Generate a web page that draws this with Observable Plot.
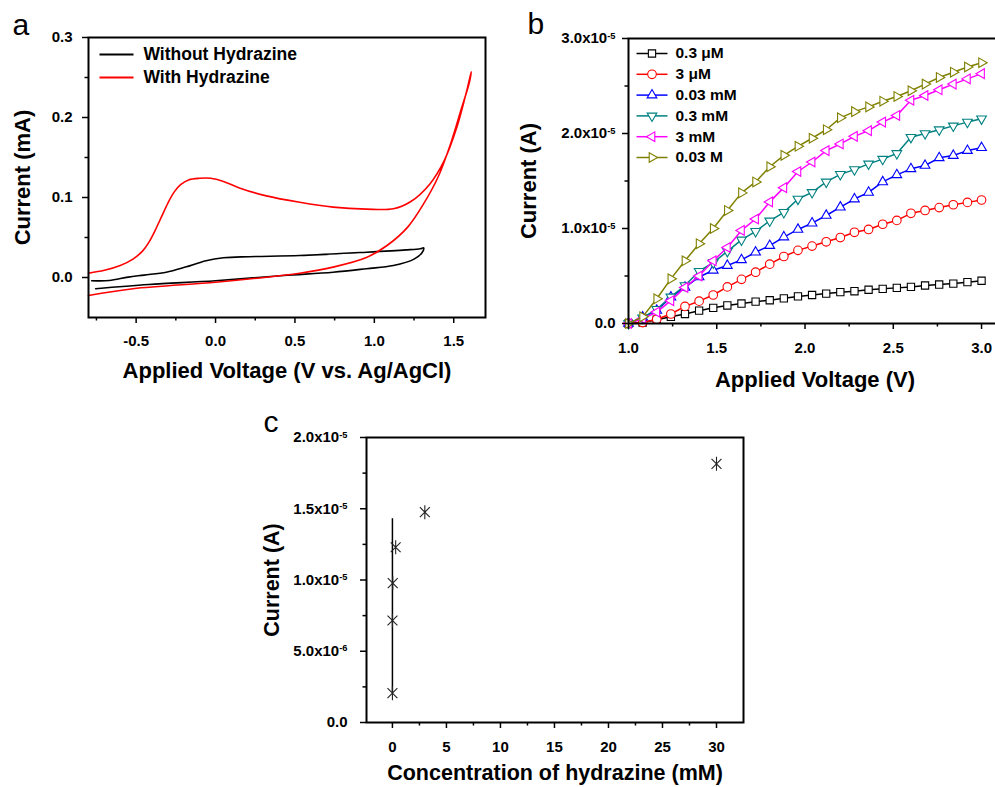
<!DOCTYPE html>
<html><head><meta charset="utf-8">
<script src="https://cdn.jsdelivr.net/npm/d3@7"></script>
<script src="https://cdn.jsdelivr.net/npm/@observablehq/plot@0.6"></script>
<style>
html,body{margin:0;padding:0;overflow:hidden;background:#fff;}
#root{position:relative;width:995px;height:787px;overflow:hidden;background:#fff;}
</style></head><body><div id="root"></div>
<script>
// ---------- Panel a: cyclic voltammograms (V vs. Ag/AgCl, mA) ----------
const aWithoutV = [-0.78,-0.67,-0.55,-0.45,-0.31,-0.19,-0.06,0.05,0.21,0.53,0.95,1.20,1.29,1.31,1.30,1.25,1.12,0.95,0.74,0.43,0.0,-0.42,-0.755];
const aWithoutI = [-0.004,-0.0038,0.0005,0.003,0.0066,0.013,0.021,0.0246,0.026,0.0275,0.0316,0.0345,0.036,0.037,0.031,0.023,0.015,0.011,0.0066,0.0025,-0.004,-0.0088,-0.014];
const aWithV = [-0.80,-0.70,-0.60,-0.52,-0.46,-0.42,-0.38,-0.34,-0.30,-0.26,-0.22,-0.17,-0.10,-0.03,0.05,0.15,0.32,0.53,0.74,0.95,1.12,1.23,1.35,1.44,1.52,1.58,1.61,
                1.60,1.545,1.48,1.40,1.31,1.21,1.08,0.95,0.74,0.53,0.32,0.0,-0.52,-0.80];
const aWithI = [0.0054,0.009,0.015,0.023,0.033,0.044,0.059,0.076,0.093,0.107,0.116,0.122,0.124,0.124,0.12,0.112,0.102,0.094,0.088,0.0855,0.086,0.095,0.117,0.146,0.188,0.232,0.257,
                0.245,0.209,0.167,0.125,0.092,0.063,0.04,0.025,0.013,0.0054,0.0004,-0.006,-0.014,-0.0225];
const aLegend = ["Without Hydrazine","With Hydrazine"];
const aColors = ["#000000","#ff0000"];
const aXTicks = [-0.5,0,0.5,1,1.5];
const aXTickLabels = ["-0.5","0.0","0.5","1.0","1.5"];
const aXMinor = [-0.75,-0.25,0.25,0.75,1.25];
const aYTicks = [0,0.1,0.2,0.3];
const aYTickLabels = ["0.0","0.1","0.2","0.3"];
const aYMinor = [0.05,0.15,0.25];

// ---------- Panel b: current vs applied voltage (units of 1e-5 A) ----------
const bVoltage = [1.00,1.08,1.16,1.24,1.32,1.40,1.48,1.56,1.64,1.72,1.80,1.88,1.96,2.04,2.12,2.20,2.28,2.36,2.44,2.52,2.60,2.68,2.76,2.84,2.92,3.00];
const b03uM  = [0,0.01,0.04,0.07,0.10,0.135,0.165,0.19,0.21,0.23,0.245,0.265,0.285,0.30,0.315,0.33,0.34,0.355,0.365,0.375,0.385,0.40,0.41,0.42,0.435,0.45];
const b3uM   = [0,0.01,0.045,0.10,0.18,0.235,0.30,0.385,0.465,0.54,0.625,0.705,0.77,0.815,0.86,0.905,0.96,0.99,1.045,1.085,1.16,1.19,1.22,1.25,1.275,1.30];
const b003mM = [0,0.066,0.137,0.277,0.38,0.49,0.56,0.61,0.67,0.75,0.82,0.91,0.99,1.056,1.137,1.224,1.31,1.38,1.49,1.565,1.628,1.663,1.744,1.768,1.82,1.85];
const b03mM  = [0,0.06,0.15,0.28,0.40,0.55,0.64,0.76,0.88,0.97,1.08,1.17,1.31,1.38,1.49,1.57,1.62,1.68,1.73,1.79,1.96,2.0,2.04,2.08,2.12,2.155];
const b3mM   = [0,0.05,0.12,0.24,0.38,0.5,0.66,0.8,0.98,1.1,1.28,1.43,1.6,1.7,1.82,1.89,1.97,2.03,2.12,2.19,2.35,2.4,2.46,2.52,2.575,2.63];
const b003M  = [0,0.07,0.26,0.47,0.66,0.84,1.0,1.19,1.375,1.49,1.65,1.77,1.865,1.95,2.04,2.165,2.23,2.28,2.34,2.39,2.45,2.52,2.59,2.645,2.70,2.745];
const bLabels = ["0.3 \u03bcM","3 \u03bcM","0.03 mM","0.3 mM","3 mM","0.03 M"];
const bColors = ["#000000","#ff0000","#0000ff","#008080","#ff00ff","#808000"];
const bXTicks = [1,1.5,2,2.5,3];
const bXTickLabels = ["1.0","1.5","2.0","2.5","3.0"];
const bXMinor = [1.25,1.75,2.25,2.75];
const bYTicks = [0,1,2,3];
const bYTickLabels = ["0.0","1.0x10^-5","2.0x10^-5","3.0x10^-5"];
const bYMinor = [0.5,1.5,2.5];

// ---------- Panel c: current vs concentration (units of 1e-6 A) ----------
const cConc = [0.0003,0.003,0.03,0.3,3,30];
const cCurrent = [2.06,7.16,9.78,12.3,14.76,18.15];
const cLineX = [0];
const cLineBottom = [2.06];
const cLineTop = [14.3];
const cXTicks = [0,5,10,15,20,25,30];
const cXTickLabels = ["0","5","10","15","20","25","30"];
const cXMinor = [2.5,7.5,12.5,17.5,22.5,27.5];
const cYTicks = [0,5,10,15,20];
const cYTickLabels = ["0.0","5.0x10^-6","1.0x10^-5","1.5x10^-5","2.0x10^-5"];
const cYMinor = [2.5,7.5,12.5,17.5];

// ---------- helpers ----------
const FONT = "'Liberation Sans', Arial, Helvetica, sans-serif";
const STYLE = `font-family:${FONT};font-weight:bold;overflow:visible;background:transparent;`;
const root = document.getElementById("root");
function place(svg, left, top) {
  svg.style.position = "absolute";
  svg.style.left = left + "px";
  svg.style.top = top + "px";
  svg.style.maxWidth = "none";
  root.appendChild(svg);
}
function fmt(ticks, labels) {
  const m = new Map(ticks.map((t, i) => [t, labels[i]]));
  return d => m.has(d) ? m.get(d) : "";
}
function finish(svg) {
  // tick label size
  svg.querySelectorAll('g[aria-label*="tick label"]').forEach(g => {
    g.setAttribute("font-size", "15");
    g.querySelectorAll("text").forEach(t => t.removeAttribute("font-size"));
  });
  // superscript exponents
  svg.querySelectorAll("text").forEach(t => {
    const s = t.textContent;
    if (!s.includes("^")) return;
    const [base, exp] = s.split("^");
    t.textContent = base;
    const ts = document.createElementNS("http://www.w3.org/2000/svg", "tspan");
    ts.setAttribute("dy", "-0.5em");
    ts.setAttribute("font-size", "0.62em");
    ts.textContent = exp;
    t.appendChild(ts);
  });
}
const tri = deg => ({
  draw(ctx, size) {
    const R = Math.sqrt(size / Math.PI) * 1.3;
    for (let k = 0; k < 3; k++) {
      const a = (deg + k * 120) * Math.PI / 180;
      const px = R * Math.sin(a), py = -R * Math.cos(a);
      if (k) ctx.lineTo(px, py); else ctx.moveTo(px, py);
    }
    ctx.closePath();
  }
});
const hline = L => ({ draw(ctx) { ctx.moveTo(-L, 0); ctx.lineTo(L, 0); } });
const star = {
  draw(ctx, size) {
    const L = Math.sqrt(size / Math.PI);
    ctx.moveTo(0, -L); ctx.lineTo(0, L);
    const d = L * Math.SQRT1_2;
    ctx.moveTo(-d, -d); ctx.lineTo(d, d);
    ctx.moveTo(-d, d); ctx.lineTo(d, -d);
  }
};
function axes(xT, xL, xM, yT, yL, yM, xPad, yPad) {
  return [
    Plot.axisX(xT, {anchor: "bottom", tickSize: 6, tickPadding: xPad, tickFormat: fmt(xT, xL), fontSize: 15, strokeWidth: 1.5, label: null}),
    Plot.axisX(xM, {anchor: "bottom", tickSize: 3.5, tickFormat: () => "", strokeWidth: 1.5, label: null}),
    Plot.axisY(yT, {anchor: "left", tickSize: 6, tickPadding: yPad, tickFormat: fmt(yT, yL), fontSize: 15, strokeWidth: 1.5, label: null}),
    Plot.axisY(yM, {anchor: "left", tickSize: 3.5, tickFormat: () => "", strokeWidth: 1.5, label: null})
  ];
}
function titles(xTitle, xdy, yTitle, ydx, letter, ldx, ldy, size = 22) {
  return [
    Plot.text([xTitle], {frameAnchor: "bottom", dy: xdy, text: d => d, textAnchor: "middle", lineAnchor: "middle", fontSize: size, fontWeight: "bold"}),
    Plot.text([yTitle], {frameAnchor: "left", dx: ydx, rotate: -90, text: d => d, textAnchor: "middle", lineAnchor: "middle", fontSize: size, fontWeight: "bold"}),
    Plot.text([letter], {frameAnchor: "top-left", dx: ldx, dy: ldy, text: d => d, textAnchor: "start", lineAnchor: "middle", fontSize: 30, fontWeight: "normal"})
  ];
}

// ---------- Panel a ----------
{
  const marks = [
    Plot.line(aWithoutI, {x: aWithoutV, y: aWithoutI, stroke: aColors[0], strokeWidth: 1.6, curve: "catmull-rom"}),
    Plot.line(aWithI, {x: aWithV, y: aWithI, stroke: aColors[1], strokeWidth: 1.6, curve: "catmull-rom"}),
    Plot.frame({stroke: "#000", strokeWidth: 2}),
    ...axes(aXTicks, aXTickLabels, aXMinor, aYTicks, aYTickLabels, aYMinor, 12, 10),
    ...titles("Applied Voltage (V vs. Ag/AgCl)", 53, "Current (mA)", -66, "a", -76, -12)
  ];
  aLegend.forEach((lab, i) => {
    marks.push(Plot.dot([lab], {frameAnchor: "top-left", dx: 28, dy: 17 + i * 23, symbol: hline(17), r: 5, stroke: aColors[i], strokeWidth: 2, fill: "none"}));
    marks.push(Plot.text([lab], {frameAnchor: "top-left", dx: 55, dy: 17 + i * 23, text: d => d, textAnchor: "start", lineAnchor: "middle", fontSize: 17.5}));
  });
  const svg = Plot.plot({
    width: 500, height: 400, marginLeft: 88, marginRight: 15, marginTop: 37, marginBottom: 83,
    x: {domain: [-0.8, 1.7]}, y: {domain: [-0.05, 0.3]},
    style: STYLE, marks
  });
  finish(svg);
  place(svg, 0, 0);
}

// ---------- Panel b ----------
{
  const series = [b03uM, b3uM, b003mM, b03mM, b3mM, b003M];
  const syms = ["square", "circle", tri(0), tri(180), tri(270), tri(90)];
  const marks = [];
  series.forEach((vals, s) => {
    marks.push(Plot.line(vals, {x: bVoltage, y: vals, stroke: bColors[s], strokeWidth: 1.5}));
    marks.push(Plot.dot(vals, {x: bVoltage, y: vals, symbol: syms[s], r: s === 0 ? 4.1 : 4.3, stroke: bColors[s], strokeWidth: 1.1, fill: "white"}));
  });
  marks.push(Plot.frame({stroke: "#000", strokeWidth: 2}));
  marks.push(...axes(bXTicks, bXTickLabels, bXMinor, bYTicks, bYTickLabels, bYMinor, 13, 7));
  marks.push(...titles("Applied Voltage (V)", 56, "Current (A)", -100, "b", -101, -14));
  bLabels.forEach((lab, i) => {
    const dy = 15 + i * 20.8;
    marks.push(Plot.dot([lab], {frameAnchor: "top-left", dx: 23.5, dy, symbol: hline(15.5), r: 5, stroke: bColors[i], strokeWidth: 1.5, fill: "none"}));
    marks.push(Plot.dot([lab], {frameAnchor: "top-left", dx: 23.5, dy, symbol: syms[i], r: i === 0 ? 4.1 : 4.3, stroke: bColors[i], strokeWidth: 1.1, fill: "white"}));
    marks.push(Plot.text([lab], {frameAnchor: "top-left", dx: 47, dy, text: d => d, textAnchor: "start", lineAnchor: "middle", fontSize: 15.5}));
  });
  const svg = Plot.plot({
    width: 505, height: 400, marginLeft: 128, marginRight: 4, marginTop: 38, marginBottom: 77,
    x: {domain: [1, 3.113]}, y: {domain: [0, 3]},
    style: STYLE, marks
  });
  finish(svg);
  place(svg, 500, 0);
}

// ---------- Panel c ----------
{
  const marks = [
    Plot.ruleX(cLineX, {x: cLineX, y1: cLineBottom, y2: cLineTop, stroke: "#000", strokeWidth: 1.5}),
    Plot.dot(cCurrent, {x: cConc, y: cCurrent, symbol: star, r: 7, stroke: "#222", strokeWidth: 1.1}),
    Plot.frame({stroke: "#000", strokeWidth: 2}),
    ...axes(cXTicks, cXTickLabels, cXMinor, cYTicks, cYTickLabels, cYMinor, 13, 13),
    ...titles("Concentration of hydrazine (mM)", 51, "Current (A)", -94, "c", -103, -15, 21.5)
  ];
  const svg = Plot.plot({
    width: 500, height: 387, marginLeft: 116, marginRight: 7, marginTop: 37, marginBottom: 65,
    x: {domain: [-2.4, 32.5]}, y: {domain: [0, 20]},
    style: STYLE, marks
  });
  finish(svg);
  place(svg, 250, 400);
}
</script></body></html>
